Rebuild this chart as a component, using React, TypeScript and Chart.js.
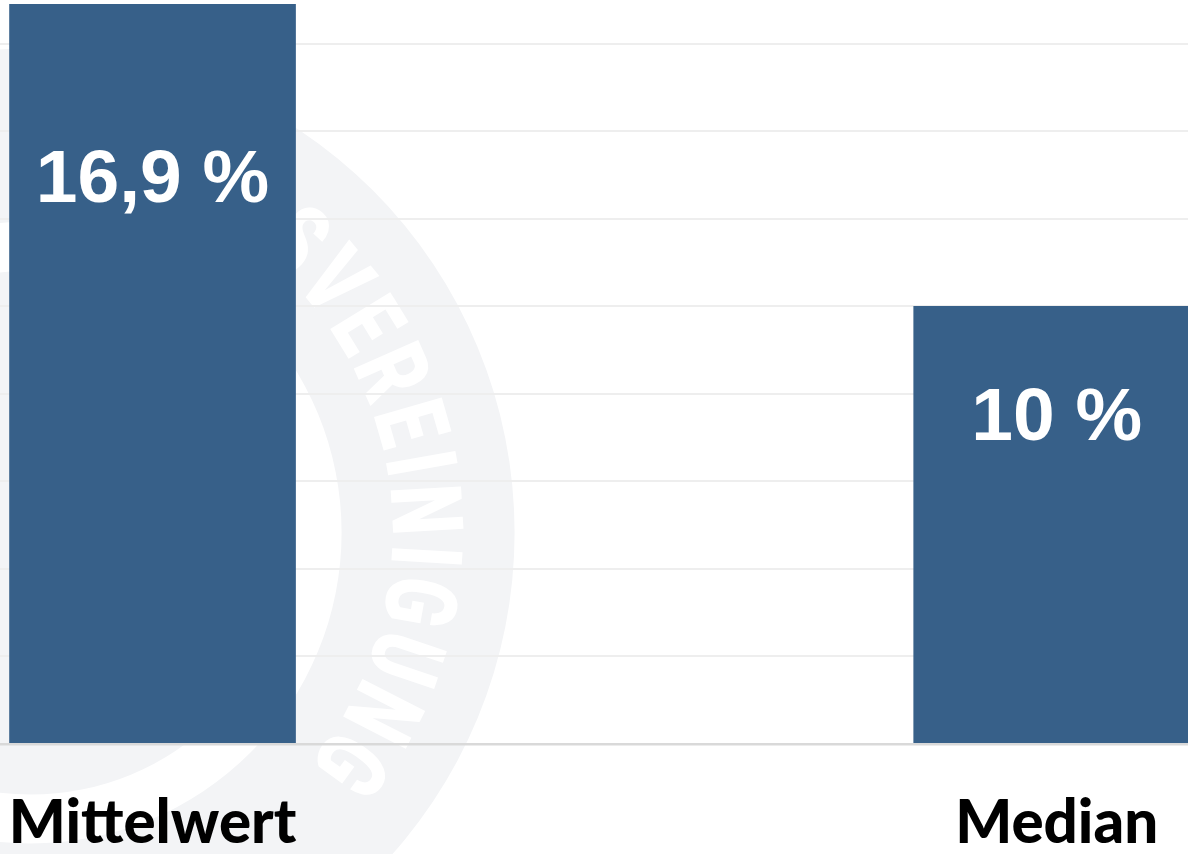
import React, { useEffect, useRef } from 'react';
import { Chart, registerables } from 'chart.js';

Chart.register(...registerables);

const categories: string[] = ['Mittelwert', 'Median'];
const values: number[] = [16.9, 10];
const yMin = 0;
const yMax = 17;
const yStep = 2;
const barColor = '#376089';
const watermarkText = 'BUNDESVEREINIGUNG';

function formatPercent(v: number): string {
  return String(v).replace('.', ',') + ' %';
}

const watermarkPlugin = {
  id: 'watermark',
  beforeDraw(chart: any) {
    const ctx = chart.ctx as CanvasRenderingContext2D;
    const cx = 30.6;
    const cy = 532.6;
    const rOuter = 484;
    const rInner = 311;
    const rCore = 262;
    ctx.save();
    ctx.fillStyle = '#ffffff';
    ctx.fillRect(0, 0, chart.width, chart.height);
    ctx.fillStyle = '#f3f4f6';
    ctx.beginPath();
    ctx.arc(cx, cy, rOuter, 0, Math.PI * 2, false);
    ctx.arc(cx, cy, rInner, 0, Math.PI * 2, true);
    ctx.fill('evenodd');
    ctx.beginPath();
    ctx.arc(cx, cy, rCore, 0, Math.PI * 2, false);
    ctx.fill();
    // text along the arc
    ctx.font = '900 99px Roboto, "DejaVu Sans", sans-serif';
    ctx.fillStyle = '#ffffff';
    ctx.textAlign = 'center';
    ctx.textBaseline = 'alphabetic';
    const sx = 0.72;
    const track = 11;
    const rText = 398;
    const rBase = 362;
    const chars = watermarkText.split('');
    const widths = chars.map((c) => ctx.measureText(c).width * sx);
    const vIndex = watermarkText.indexOf('V');
    const startAngle = (-39.5 * Math.PI) / 180;
    const angles: number[] = new Array(chars.length).fill(0);
    angles[vIndex] = startAngle;
    for (let i = vIndex + 1; i < chars.length; i++) {
      const d = widths[i - 1] / 2 + widths[i] / 2 + track;
      angles[i] = angles[i - 1] + d / rText;
    }
    for (let i = vIndex - 1; i >= 0; i--) {
      const d = widths[i + 1] / 2 + widths[i] / 2 + track;
      angles[i] = angles[i + 1] - d / rText;
    }
    chars.forEach((c, i) => {
      const a = angles[i];
      ctx.save();
      ctx.translate(cx + rBase * Math.cos(a), cy + rBase * Math.sin(a));
      ctx.rotate(a + Math.PI / 2);
      ctx.scale(sx, 1);
      ctx.fillText(c, 0, 0);
      ctx.restore();
    });
    ctx.restore();
  },
};

const valueLabelPlugin = {
  id: 'valueLabels',
  afterDatasetsDraw(chart: any) {
    const ctx = chart.ctx as CanvasRenderingContext2D;
    const meta = chart.getDatasetMeta(0);
    const size = 75;
    ctx.save();
    ctx.font = `bold ${size}px "Liberation Sans", Arial, sans-serif`;
    ctx.fillStyle = '#ffffff';
    ctx.textAlign = 'center';
    ctx.textBaseline = 'alphabetic';
    meta.data.forEach((bar: any, i: number) => {
      const top = bar.y;
      const base = bar.base;
      const center = top + 14 + 0.212 * (base - top);
      ctx.fillText(formatPercent(values[i]), bar.x, center + 0.358 * size);
    });
    ctx.restore();
  },
};

export default function App() {
  const canvasRef = useRef<HTMLCanvasElement | null>(null);

  useEffect(() => {
    if (!canvasRef.current) return;
    const chart = new Chart(canvasRef.current, {
      type: 'bar',
      data: {
        datasets: [
          {
            data: categories.map((c, i) => ({ x: i, y: values[i] })),
            backgroundColor: barColor,
            borderWidth: 0,
            barThickness: 286,
          } as any,
        ],
      },
      options: {
        animation: false,
        responsive: true,
        maintainAspectRatio: false,
        layout: { padding: 0 },
        plugins: {
          legend: { display: false },
          tooltip: { enabled: false },
        },
        scales: {
          x: {
            type: 'linear',
            min: -0.1687,
            max: 1.1452,
            offset: false,
            grid: { display: false, drawTicks: false },
            border: { display: false },
            afterBuildTicks: (scale: any) => {
              scale.ticks = categories.map((_, i) => ({ value: i }));
            },
            afterFit: (scale: any) => {
              scale.height = 110;
              scale.paddingLeft = 0;
              scale.paddingRight = 0;
            },
            ticks: {
              autoSkip: false,
              maxRotation: 0,
              minRotation: 0,
              padding: 44,
              color: '#000000',
              font: { family: 'Lato', weight: '900', size: 60 },
              callback: (v: any) => categories[v as number] ?? '',
            },
          },
          y: {
            min: yMin,
            max: yMax,
            grid: {
              drawTicks: false,
              color: (c: any) => (c.tick && c.tick.value === 0 ? '#d9d9d9' : '#eeeeee'),
              lineWidth: (c: any) => (c.tick && c.tick.value === 0 ? 2.5 : 2),
            },
            border: { display: false },
            afterFit: (scale: any) => {
              scale.width = 0;
              scale.paddingTop = 0;
              scale.paddingBottom = 0;
            },
            ticks: {
              display: false,
              stepSize: yStep,
              includeBounds: false,
            },
          },
        },
      } as any,
      plugins: [watermarkPlugin, valueLabelPlugin],
    });
    return () => chart.destroy();
  }, []);

  return (
    <div style={{ position: 'fixed', left: 0, top: 0, width: '1188px', height: '854px', background: '#ffffff' }}>
      <canvas ref={canvasRef} />
    </div>
  );
}
